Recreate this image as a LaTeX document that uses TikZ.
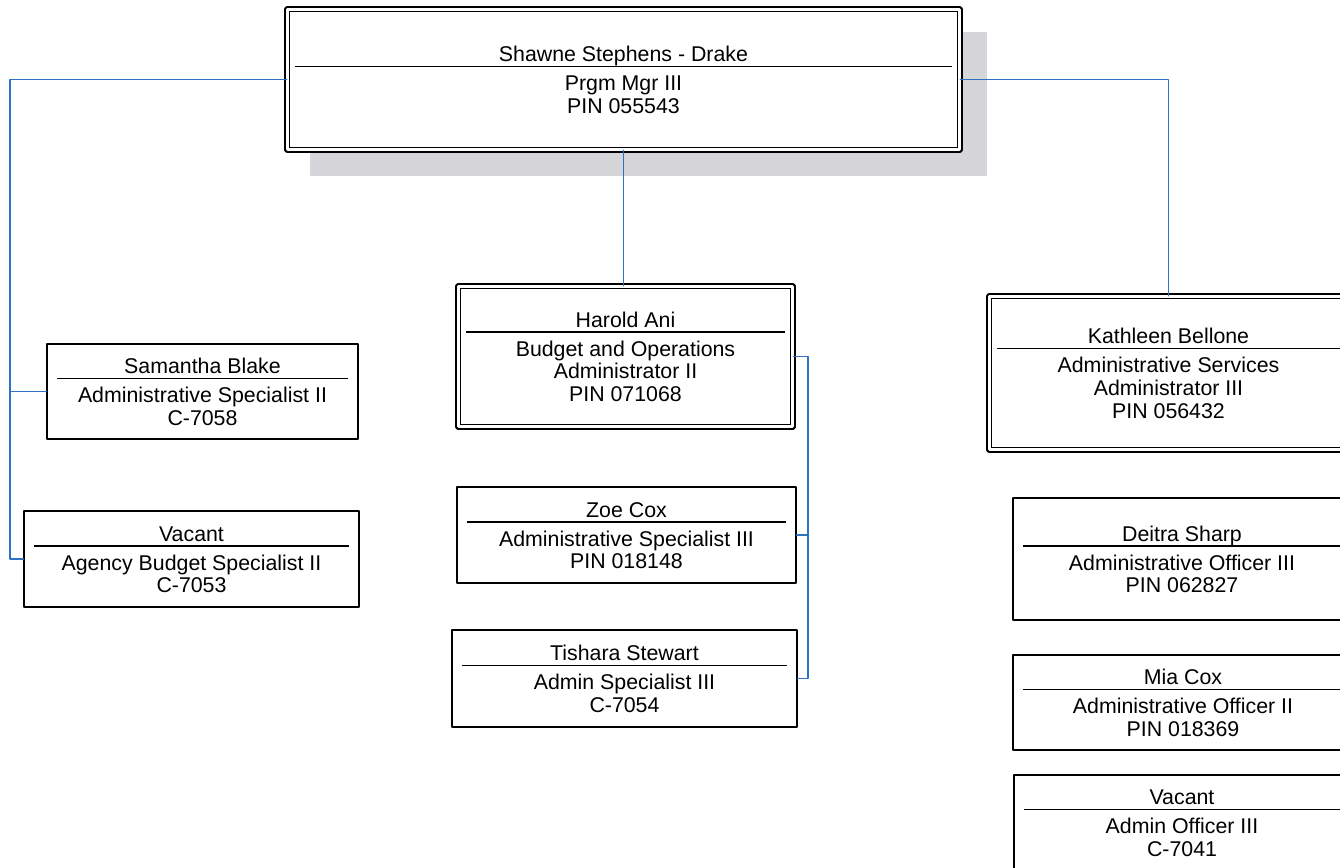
\documentclass[tikz,border=0pt]{standalone}
\usepackage{fontspec}
\setmainfont{Liberation Sans}
\usepackage{array}
\usepackage{tikz}
\definecolor{linkblue}{RGB}{45,115,195}
\definecolor{shadowgray}{RGB}{214,214,218}
\setlength{\arrayrulewidth}{1.2pt}
\newcommand{\card}[3]{\begin{tabular}{@{}>{\centering\arraybackslash}p{#1}@{}}\noalign{\vskip 5pt}#2\\[-2pt]\hline\noalign{\vskip 5.5pt}#3\end{tabular}}
\tikzset{
  staff/.style={draw, line width=0.9pt, fill=white, inner sep=0pt},
  chief/.style={draw, line width=0.8pt, double=white, double distance=2.8pt, fill=white, inner sep=0pt},
  link/.style={draw=linkblue, line width=0.95pt}
}

\begin{document}
\begin{tikzpicture}[line cap=round,line join=round,x=0.75pt,y=-0.75pt,font=\fontsize{16}{17}\selectfont]
    \useasboundingbox (0,0) rectangle (1340,868);
    \clip (0,0) rectangle (1340,868);
    \fill[white] (0,0) rectangle (1340,868);
    % shadow of the top box
    \fill[shadowgray] (310,32) rectangle (987,176);
    \node[chief, minimum width=504.15pt, minimum height=105.15pt] (mgr) at (623.5,79.5)
        {\card{492.75pt}{Shawne Stephens - Drake}{Prgm Mgr III\\PIN 055543}};
    % left column
    \node[staff, minimum width=233.25pt, minimum height=71.25pt] (blake) at (202.5,391.5)
        {\card{218.25pt}{Samantha Blake}{Administrative Specialist II\\C-7058}};
    \node[staff, minimum width=251.25pt, minimum height=72pt] (vacA) at (191.5,559)
        {\card{236.25pt}{Vacant}{Agency Budget Specialist II\\C-7053}};
    % middle column
    \node[chief, minimum width=250.65pt, minimum height=105.15pt] (harold) at (625.5,356.5)
        {\card{239.25pt}{Harold Ani}{Budget and Operations\\Administrator II\\PIN 071068}};
    \node[staff, minimum width=254.25pt, minimum height=72pt] (zoe) at (626.5,535)
        {\card{239.25pt}{Zoe Cox}{Administrative Specialist III\\PIN 018148}};
    \node[staff, minimum width=258.75pt, minimum height=72.75pt] (tish) at (624.5,678.5)
        {\card{243.75pt}{Tishara Stewart}{Admin Specialist III\\C-7054}};
    % right column
    \node[chief, minimum width=268.65pt, minimum height=114.9pt] (kath) at (1168.5,373)
        {\card{257.25pt}{Kathleen Bellone}{Administrative Services\\Administrator III\\PIN 056432}};
    \node[staff, minimum width=253.5pt, minimum height=91.5pt] (deitra) at (1182,559)
        {\card{238.5pt}{Deitra Sharp}{Administrative Officer III\\PIN 062827}};
    \node[staff, minimum width=255pt, minimum height=71.25pt] (mia) at (1183,702.5)
        {\card{240pt}{Mia Cox}{Administrative Officer II\\PIN 018369}};
    \node[staff, minimum width=252pt, minimum height=71.25pt] (vacB) at (1182,822.5)
        {\card{237pt}{Vacant}{Admin Officer III\\C-7041}};
    % connectors
    \coordinate (lbus) at (10,79.5);
    \coordinate (hbus) at (808,356.5);
    \draw[link] (mgr.west) -- (lbus) |- (vacA.west);
    \draw[link] (blake.west) -- (blake.west -| lbus);
    \draw[link] (mgr.east) -| (kath.north);
    \draw[link] (mgr.south) -- (mgr.south |- harold.north);
    \draw[link] (harold.east) -- (hbus) |- (tish.east);
    \draw[link] (zoe.east) -- (zoe.east -| hbus);
\end{tikzpicture}
\end{document}
